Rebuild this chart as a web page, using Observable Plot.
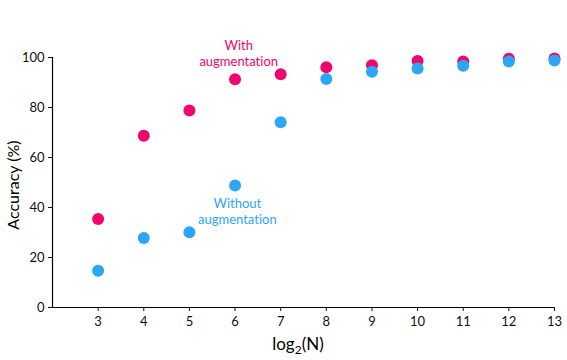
<!DOCTYPE html>
<html>
<head>
<meta charset="utf-8">
<script src="https://cdn.jsdelivr.net/npm/d3@7"></script>
<script src="https://cdn.jsdelivr.net/npm/@observablehq/plot@0.6"></script>
<style>
  html, body { margin: 0; padding: 0; background: #fff; }
  svg { display: block; }
  svg text { font-variant-ligatures: none; font-feature-settings: "liga" 0, "clig" 0; }
</style>
</head>
<body>
<div id="chart"></div>
<script>
const log2N = [3, 4, 5, 6, 7, 8, 9, 10, 11, 12, 13];
const withAug = [35.4, 68.7, 78.8, 91.3, 93.3, 96.1, 96.9, 98.6, 98.4, 99.5, 99.6];
const withoutAug = [14.7, 27.8, 30.1, 48.8, 74.1, 91.4, 94.3, 95.6, 96.7, 98.4, 98.8];
const xTicks = [3, 4, 5, 6, 7, 8, 9, 10, 11, 12, 13];
const yTicks = [0, 20, 40, 60, 80, 100];
const colorWith = "#f0056e";
const colorWithout = "#2ba7f6";

const rowsWith = log2N.map((x, i) => ({x, y: withAug[i]}));
const rowsWithout = log2N.map((x, i) => ({x, y: withoutAug[i]}));

const font = "Lato, 'Open Sans', sans-serif";

const chart = Plot.plot({
  width: 567,
  height: 360,
  marginLeft: 52,
  marginRight: 13,
  marginTop: 57,
  marginBottom: 53,
  style: {fontFamily: font, fontSize: "13px", color: "#111", background: "#fff"},
  x: {domain: [2, 13], label: null},
  y: {domain: [0, 100], label: null},
  marks: [
    Plot.axisX({ticks: xTicks, tickSize: 4, tickPadding: 5, fontSize: 13, label: null}),
    Plot.axisY({ticks: yTicks, tickSize: 4, tickPadding: 4, fontSize: 13, label: null}),
    Plot.ruleX([2], {y1: 0, y2: 100, stroke: "#000", strokeWidth: 1.2}),
    Plot.ruleY([0], {x1: 2, x2: 13, stroke: "#000", strokeWidth: 1.2}),
    Plot.dot(rowsWith, {x: "x", y: "y", r: 6, fill: colorWith, stroke: "none"}),
    Plot.dot(rowsWithout, {x: "x", y: "y", r: 6, fill: colorWithout, stroke: "none"}),
    Plot.text(["With\naugmentation"], {x: 6.08, y: 101.7, text: d => d, fill: colorWith, fontSize: 13, lineHeight: 1.2}),
    Plot.text(["Without\naugmentation"], {x: 6.05, y: 38.6, text: d => d, fill: colorWithout, fontSize: 13, lineHeight: 1.2})
  ]
});

const svg = d3.select(chart);
// y-axis title
svg.append("text")
  .attr("transform", "translate(19,185) rotate(-90)")
  .attr("text-anchor", "middle")
  .attr("font-family", font)
  .attr("font-size", 16)
  .attr("fill", "#000")
  .text("Accuracy (%)");
// x-axis title with subscript
const xt = svg.append("text")
  .attr("x", 298)
  .attr("y", 350)
  .attr("text-anchor", "middle")
  .attr("font-family", font)
  .attr("font-size", 17)
  .attr("fill", "#000");
xt.append("tspan").text("log");
xt.append("tspan").attr("font-size", 12).attr("dy", 4).text("2");
xt.append("tspan").attr("dy", -4).text("(N)");

document.getElementById("chart").appendChild(chart);
</script>
</body>
</html>
